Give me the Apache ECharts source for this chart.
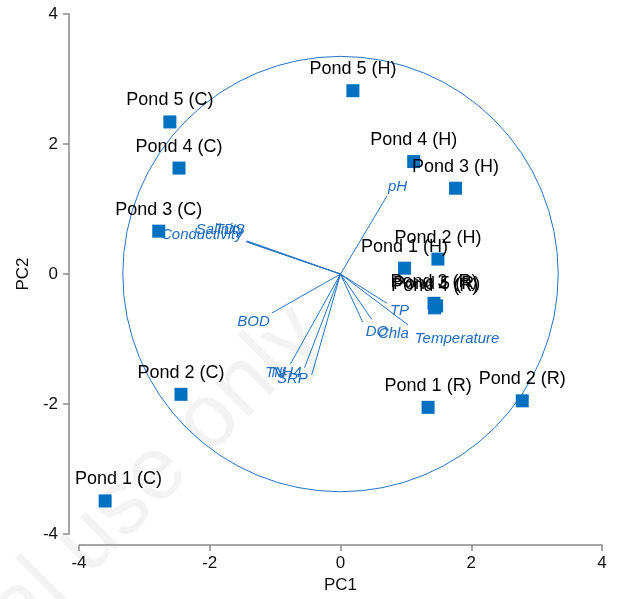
<!DOCTYPE html>
<html>
<head>
<meta charset="utf-8">
<script src="https://cdn.jsdelivr.net/npm/echarts@6/dist/echarts.min.js"></script>
<style>
  html, body { margin: 0; padding: 0; background: #fff; }
  #chart { width: 621px; height: 599px; }
</style>
</head>
<body>
<div id="chart"></div>
<script>
// 样本得分 (PC1, PC2)
const pondNames = [
  'Pond 1 (C)', 'Pond 2 (C)', 'Pond 3 (C)', 'Pond 4 (C)', 'Pond 5 (C)',
  'Pond 1 (H)', 'Pond 2 (H)', 'Pond 3 (H)', 'Pond 4 (H)', 'Pond 5 (H)',
  'Pond 1 (R)', 'Pond 2 (R)', 'Pond 3 (R)', 'Pond 5 (R)', 'Pond 4 (R)'
];
const pc1 = [-3.60, -2.44, -2.78, -2.47, -2.61, 0.98, 1.49, 1.76, 1.12, 0.19, 1.34, 2.78, 1.43, 1.47, 1.44];
const pc2 = [-3.49, -1.85, 0.66, 1.63, 2.34, 0.09, 0.23, 1.32, 1.73, 2.82, -2.05, -1.95, -0.45, -0.49, -0.52];

// 变量载荷 (箭头终点)
const varNames = ['pH', 'Conductivity', 'Salinity', 'TDS', 'BOD', 'TN', 'NH4', 'SRP', 'TP', 'DO', 'Chla', 'Temperature'];
const loadX = [0.71, -1.45, -1.43, -1.42, -1.05, -0.77, -0.55, -0.44, 0.71, 0.34, 0.48, 1.03];
const loadY = [1.20, 0.50, 0.51, 0.49, -0.60, -1.39, -1.44, -1.55, -0.45, -0.74, -0.70, -0.78];

// 相关圆半径
const circleRadius = 3.33;

const axisTicks = [-4, -2, 0, 2, 4];

const font = "'Liberation Sans', Arial, sans-serif";
const blue = '#0070c0';
const vecBlue = '#2474c6';
const vecLabelBlue = '#1d6cc0';

// 标签微调 (像素)
const labelNudge = {
  pH: [1, -9], Conductivity: [-3, -7], Salinity: [-3, -11], TDS: [-3, -12],
  BOD: [-2, 9], TN: [-5, 8], NH4: [-3, 5], SRP: [-4, 4],
  TP: [3, 8], DO: [3, 10], Chla: [6, 14], Temperature: [7, 14],
};

const chartInstance = echarts.init(document.getElementById('chart'));

const vectorLabels = varNames.map((name, i) => {
  const x = loadX[i], y = loadY[i];
  return {
    name: name,
    value: [x, y],
    label: {
      position: x >= 0 ? 'right' : 'left',
      distance: 0,
      offset: labelNudge[name] || [0, 0],
    },
  };
});

const option = {
  animation: false,
  backgroundColor: '#fff',
  graphic: [
    {
      // 水印
      type: 'text',
      x: 308,
      y: 322,
      rotation: Math.PI / 4,
      z: -10,
      silent: true,
      style: {
        text: 'For personal use only',
        font: '90px ' + font,
        fill: '#f3f3f3',
        textAlign: 'right',
        textVerticalAlign: 'middle',
      },
    },
  ],
  grid: {
    left: 79,
    right: 19,
    top: 14,
    bottom: 63,
  },
  xAxis: {
    type: 'value',
    min: axisTicks[0],
    max: axisTicks[axisTicks.length - 1],
    interval: 2,
    offset: 11,
    name: 'PC1',
    nameLocation: 'middle',
    nameGap: 28,
    nameTextStyle: { fontSize: 17, color: '#111', fontFamily: font },
    axisLine: { onZero: false, lineStyle: { color: '#8a8a8a', width: 1.5 } },
    axisTick: { length: 6, lineStyle: { color: '#8a8a8a', width: 1.5 } },
    axisLabel: { fontSize: 17, color: '#111', fontFamily: font, margin: 10 },
    splitLine: { show: false },
  },
  yAxis: {
    type: 'value',
    min: axisTicks[0],
    max: axisTicks[axisTicks.length - 1],
    interval: 2,
    offset: 10,
    name: 'PC2',
    nameLocation: 'middle',
    nameGap: 26,
    nameTextStyle: { fontSize: 17, color: '#111', fontFamily: font },
    axisLine: { onZero: false, lineStyle: { color: '#8a8a8a', width: 1.5 } },
    axisTick: { length: 6, lineStyle: { color: '#8a8a8a', width: 1.5 } },
    axisLabel: { fontSize: 17, color: '#111', fontFamily: font, margin: 11 },
    splitLine: { show: false },
  },
  series: [
    {
      // 相关圆
      type: 'custom',
      silent: true,
      data: [[0, 0]],
      renderItem: function (params, api) {
        const c = api.coord([0, 0]);
        const r = api.size([circleRadius, 0])[0];
        return {
          type: 'circle',
          shape: { cx: c[0], cy: c[1], r: r },
          style: { fill: 'none', stroke: vecBlue, lineWidth: 1 },
        };
      },
      z: 1,
    },
    {
      // 载荷线
      type: 'lines',
      coordinateSystem: 'cartesian2d',
      silent: true,
      lineStyle: { color: vecBlue, width: 1, opacity: 1 },
      data: varNames.map((name, i) => ({ coords: [[0, 0], [loadX[i], loadY[i]]] })),
      z: 2,
    },
    {
      // 载荷标签
      type: 'scatter',
      symbolSize: 0,
      silent: true,
      itemStyle: { opacity: 1 },
      data: vectorLabels,
      label: {
        show: true,
        formatter: '{b}',
        fontSize: 15,
        fontStyle: 'italic',
        color: vecLabelBlue,
        fontFamily: font,
      },
      z: 3,
    },
    {
      // 样本点
      type: 'scatter',
      symbol: 'rect',
      symbolSize: 13,
      itemStyle: { color: blue, opacity: 1 },
      data: pondNames.map((name, i) => ({ name: name, value: [pc1[i], pc2[i]] })),
      label: {
        show: true,
        position: 'top',
        distance: 6,
        formatter: '{b}',
        fontSize: 18,
        color: '#000',
        fontFamily: font,
      },
      // 标签不越过绘图区左边
      labelLayout: function (params) {
        const r = params.labelRect;
        return r.x < 75 ? { dx: 75 - r.x } : {};
      },
      z: 4,
    },
  ],
};
chartInstance.setOption(option);
</script>
</body>
</html>
